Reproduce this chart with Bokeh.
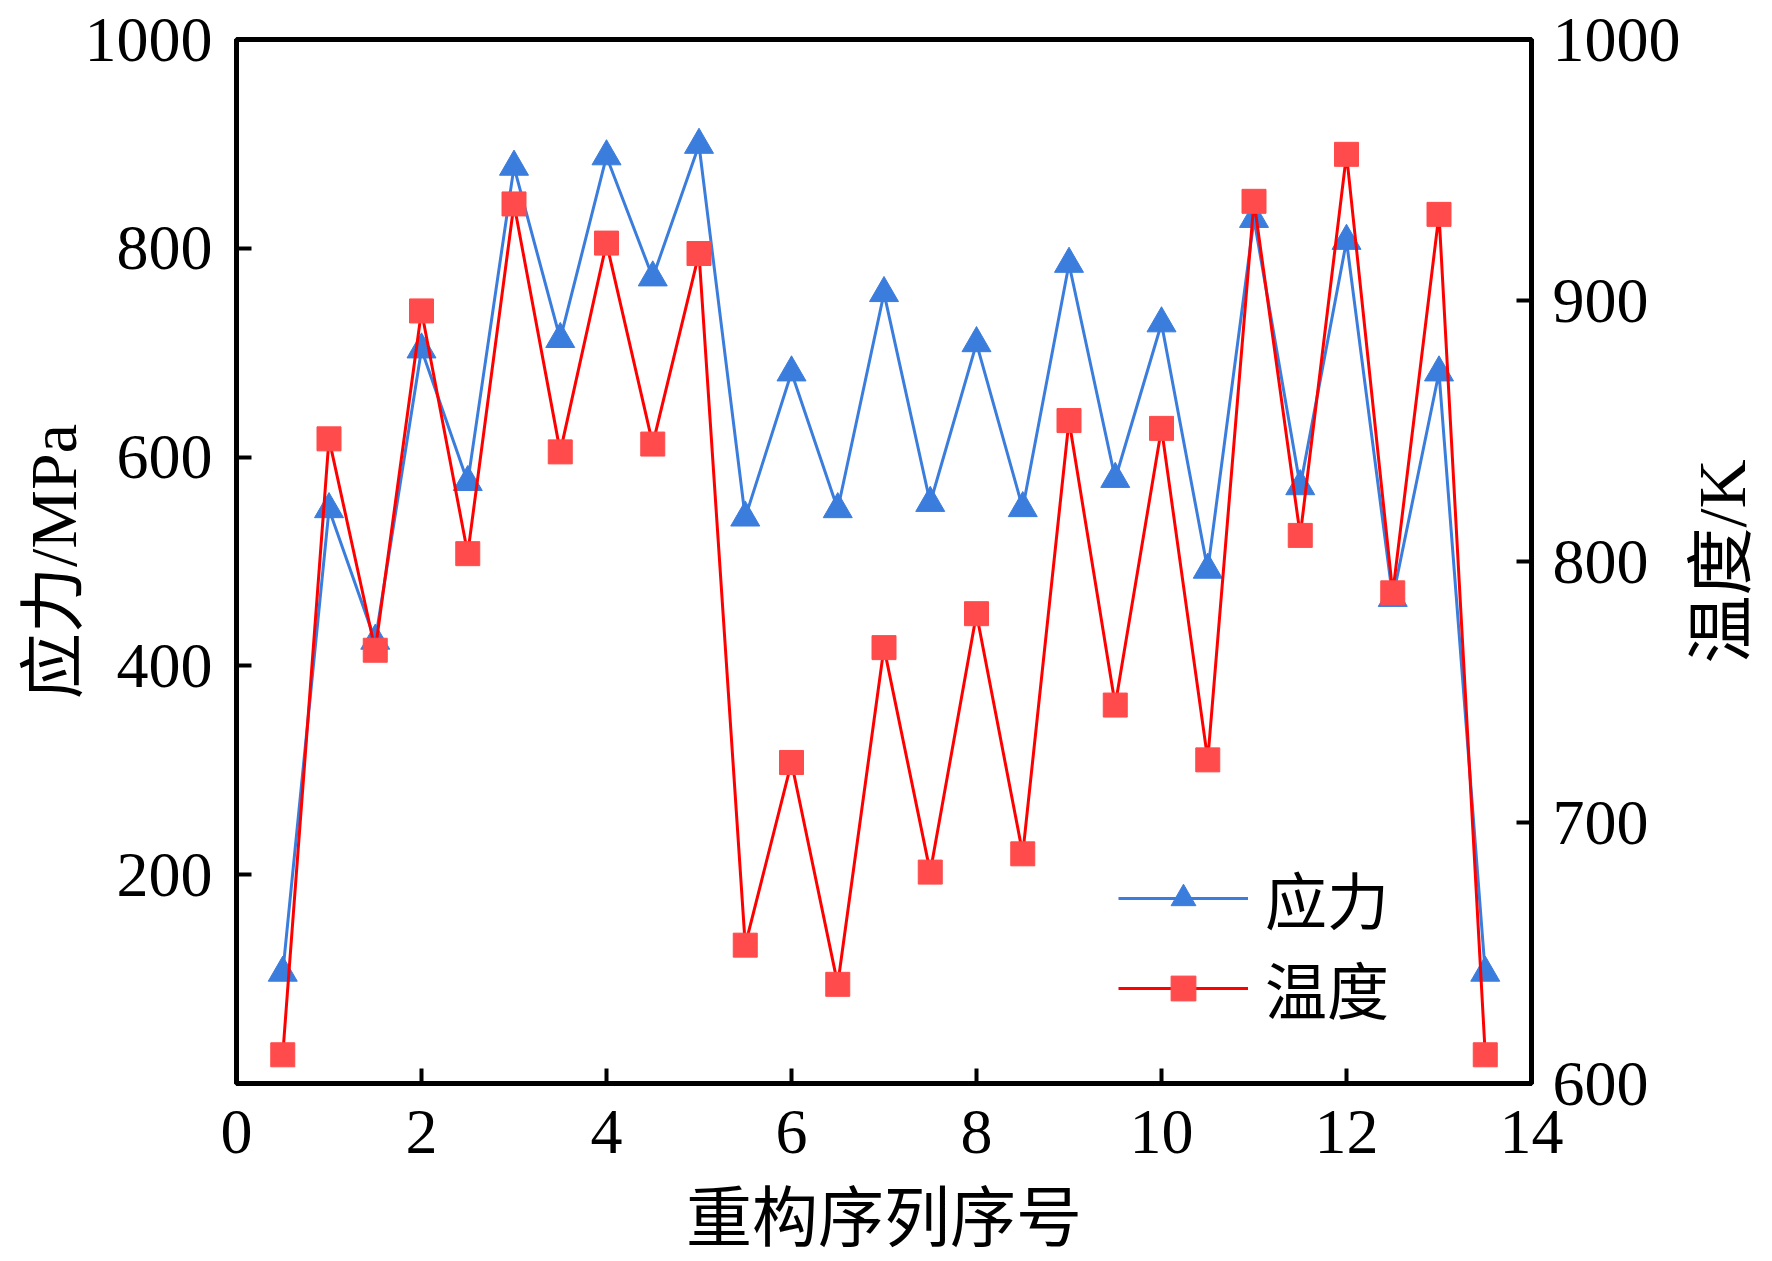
import math
from bokeh.plotting import figure
from bokeh.layouts import row
from bokeh.models import Range1d, LinearAxis, FixedTicker, Legend, LegendItem, Title
from bokeh.embed import file_html
from bokeh.resources import INLINE

# ---- data ----
seq = [0.5, 1, 1.5, 2, 2.5, 3, 3.5, 4, 4.5, 5, 5.5, 6, 6.5, 7, 7.5,
       8, 8.5, 9, 9.5, 10, 10.5, 11, 11.5, 12, 12.5, 13, 13.5]
stress = [106, 550, 424, 703, 576, 878, 713, 888, 772, 899, 542, 681, 550, 757, 556,
          709, 551, 785, 579, 728, 492, 828, 572, 807, 465, 681, 106]
temperature = [611, 847, 766, 896, 803, 937, 842, 922, 845, 918, 653, 723, 638, 767, 681,
               780, 688, 854, 745, 851, 724, 938, 810, 956, 788, 933, 611]
x_ticks = [0, 2, 4, 6, 8, 10, 12, 14]
left_ticks = [200, 400, 600, 800, 1000]
right_ticks = [600, 700, 800, 900, 1000]
x_title = "重构序列序号"
left_title = "应力/MPa"
right_title = "温度/K"
names = ["应力", "温度"]

FONT = "Liberation Serif, Noto Sans CJK SC"
BLUE = "#3B7DDD"
RED_LINE = "#FF0000"
RED_FILL = "#FF4B4B"

P_W = 1683
p = figure(width=P_W, height=1261, output_backend="svg", toolbar_location=None,
           x_range=Range1d(0, 14), y_range=Range1d(0, 1000))
p.min_border_left = 236
p.min_border_right = P_W - 1532
p.min_border_top = 39
p.min_border_bottom = 178
p.xgrid.visible = False
p.ygrid.visible = False
p.outline_line_color = "black"
p.outline_line_width = 5
p.background_fill_color = "white"
p.border_fill_color = "white"

p.extra_y_ranges = {"temp": Range1d(600, 1000)}
raxis = LinearAxis(y_range_name="temp")
p.add_layout(raxis, "right")

def style_axis(ax, ticks, label):
    ax.ticker = FixedTicker(ticks=ticks)
    ax.axis_line_width = 5
    ax.axis_line_color = "black"
    ax.major_tick_line_width = 4
    ax.major_tick_in = 15
    ax.major_tick_out = 0
    ax.minor_tick_line_color = None
    ax.major_label_text_font = FONT
    ax.major_label_text_font_size = "64px"
    ax.major_label_text_color = "black"
    if label:
        ax.axis_label = label
        ax.axis_label_text_font = FONT
        ax.axis_label_text_font_size = "66px"
        ax.axis_label_text_font_style = "normal"
        ax.axis_label_text_color = "black"

xaxis = p.xaxis[0]
yaxis = p.yaxis[0]
style_axis(xaxis, x_ticks, x_title)
style_axis(yaxis, left_ticks, left_title)
style_axis(raxis, right_ticks, None)
xaxis.major_label_standoff = 27
xaxis.axis_label_standoff = 26
yaxis.major_label_standoff = 24
yaxis.axis_label_standoff = -8
raxis.major_label_standoff = 21

l1 = p.line(seq, stress, line_color=BLUE, line_width=3)
m1 = p.scatter(seq, stress, marker="triangle", size=29, fill_color=BLUE, line_color=BLUE)
l2 = p.line(seq, temperature, y_range_name="temp", line_color=RED_LINE, line_width=3)
m2 = p.scatter(seq, temperature, y_range_name="temp", marker="square", size=24,
               fill_color=RED_FILL, line_color=RED_FILL)

legend = Legend(items=[LegendItem(label=names[0], renderers=[l1, m1]),
                       LegendItem(label=names[1], renderers=[l2, m2])],
                location=(882, 50))
legend.border_line_color = None
legend.background_fill_alpha = 0
legend.padding = 0
legend.margin = 0
legend.glyph_width = 130
legend.glyph_height = 62
legend.label_height = 62
legend.label_standoff = 17
legend.spacing = 0
legend.label_text_font = FONT
legend.label_text_font_size = "62px"
legend.label_text_color = "black"
p.add_layout(legend, "center")

# narrow companion figure carrying the right-hand axis title (reads bottom-to-top)
p2 = figure(width=1772 - P_W, height=1261, output_backend="svg", toolbar_location=None,
            x_range=Range1d(0, 1), y_range=Range1d(0, 1))
p2.min_border_left = 0
p2.min_border_right = 0
p2.min_border_top = 39
p2.min_border_bottom = 178
p2.axis.visible = False
p2.grid.visible = False
p2.outline_line_color = None
p2.background_fill_color = "white"
p2.border_fill_color = "white"
p2.scatter([0.5], [0.5], alpha=0)
p2.add_layout(Title(text=right_title, align="center", vertical_align="top",
                    text_font=FONT, text_font_size="68px", text_font_style="normal",
                    text_color="black", standoff=0, offset=0), "left")

open("out.html", "w").write(file_html(row(p, p2), INLINE))
